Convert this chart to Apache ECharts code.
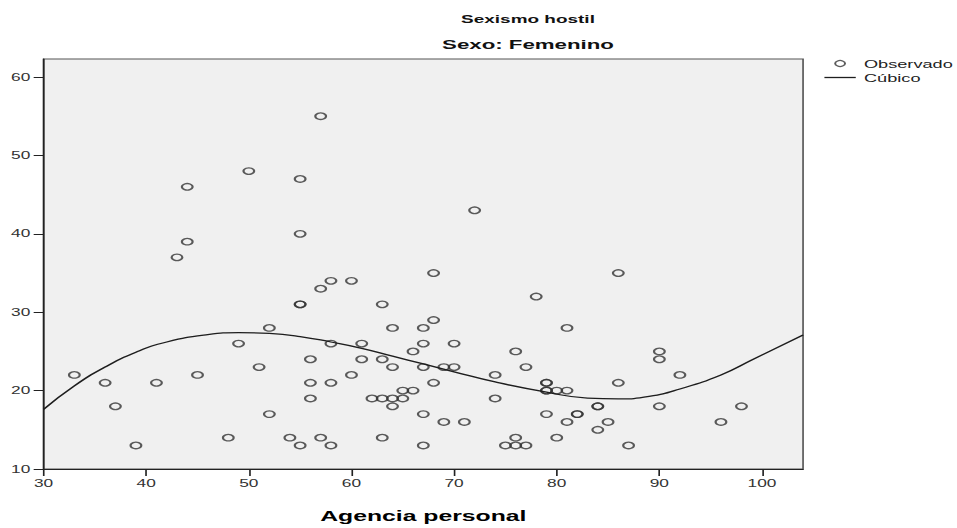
<!DOCTYPE html>
<html>
<head>
<meta charset="utf-8">
<script src="https://cdn.jsdelivr.net/npm/echarts@6/dist/echarts.min.js"></script>
<style>
  html, body { margin: 0; padding: 0; background: #fff; overflow: hidden; width: 957px; height: 528px; }
  /* The chart is laid out narrow and widened horizontally, like the exported SPSS graphic */
  #chart { width: 580px; height: 528px; transform: scaleX(1.65); transform-origin: 0 0; }
</style>
</head>
<body>
<div id="chart"></div>
<script>
// Observed cases: Agencia personal (x) and Sexismo hostil (y)
const agencia = [
  33, 36, 37, 39, 41, 43, 44, 44, 45, 48, 49, 50, 51, 52, 52, 54,
  55, 55, 55, 55, 55, 56, 56, 56, 57, 57, 57, 58, 58, 58, 58, 60, 60,
  61, 61, 62, 63, 63, 63, 63, 64, 64, 64, 64, 65, 65, 66, 66, 67, 67, 67, 67, 67, 68, 68, 68, 69, 69, 70, 70,
  71, 72, 74, 74, 75, 76, 76, 76, 77, 77, 78, 79, 79, 79, 79, 79, 80, 80, 81, 81, 81, 82, 82, 84, 84, 84, 85, 86, 86, 87, 90, 90, 90, 92, 96, 98
];
const sexismo = [
  22, 21, 18, 13, 21, 37, 46, 39, 22, 14, 26, 48, 23, 28, 17, 14,
  47, 40, 31, 31, 13, 24, 21, 19, 55, 33, 14, 34, 26, 21, 13, 34, 22,
  26, 24, 19, 31, 24, 19, 14, 28, 23, 19, 18, 20, 19, 25, 20, 28, 26, 23, 17, 13, 35, 29, 21, 23, 16, 26, 23,
  16, 43, 22, 19, 13, 25, 14, 13, 23, 13, 32, 21, 21, 20, 20, 17, 20, 14, 28, 20, 16, 17, 17, 18, 18, 15, 16, 35, 21, 13, 25, 24, 18, 22, 16, 18
];

// Cubic fit curve, sampled along the x range
const cubicX = [30, 33, 36, 39, 42, 46, 49, 52, 55, 58, 61, 64, 67, 70, 74, 79, 83, 86, 89, 92, 96, 99, 104];
const cubicY = [17.6, 20.6, 23.0, 24.9, 26.2, 27.15, 27.4, 27.3, 26.9, 26.2, 25.4, 24.4, 23.4, 22.4, 21.1, 19.8, 19.05, 18.95, 19.25, 20.2, 22.0, 23.9, 27.1];

// Tick labels
const xTicks = [30, 40, 50, 60, 70, 80, 90, 100];
const yTicks = [10, 20, 30, 40, 50, 60];

const observed = agencia.map((x, i) => [x, sexismo[i]]);
const curve = cubicX.map((x, i) => [x, cubicY[i]]);

const chart = echarts.init(document.getElementById('chart'), null, { renderer: 'svg' });

const font = 'Liberation Sans, Arial, sans-serif';
const axisInk = '#222';
const curveInk = '#1e1e1e';

chart.setOption({
  animation: false,
  backgroundColor: '#ffffff',
  textStyle: { fontFamily: font },
  title: [
    {
      text: 'Sexismo hostil',
      left: 320, top: 12.5, textAlign: 'center', padding: 0,
      textStyle: { fontFamily: font, fontSize: 11.5, fontWeight: 'bold', color: '#111' }
    },
    {
      text: 'Sexo: Femenino',
      left: 320, top: 37.5, textAlign: 'center', padding: 0,
      textStyle: { fontFamily: font, fontSize: 13.5, fontWeight: 'bold', color: '#111' }
    }
  ],
  legend: {
    orient: 'vertical',
    left: 499, top: 58,
    padding: 0,
    itemWidth: 19, itemHeight: 6, itemGap: 3,
    textStyle: { fontFamily: font, fontSize: 11, color: '#222' },
    data: [
      { name: 'Observado', icon: 'circle', itemStyle: { color: 'transparent', borderColor: '#333', borderWidth: 1.2 } },
      {
        name: 'Cúbico',
        itemStyle: { color: 'transparent', borderColor: 'transparent', borderWidth: 0 },
        lineStyle: { color: curveInk, width: 1.3 }
      }
    ]
  },
  grid: {
    left: 26.4, right: 93.3, top: 59, bottom: 50.3,
    show: true, backgroundColor: '#f0f0f0', borderColor: '#555', borderWidth: 1
  },
  xAxis: {
    type: 'value', min: 30, max: 104,
    name: 'Agencia personal', nameLocation: 'middle', nameGap: 39,
    nameTextStyle: { fontFamily: font, fontSize: 15, fontWeight: 'bold', color: '#000' },
    axisLine: { onZero: false, lineStyle: { color: axisInk, width: 1 } },
    axisTick: { show: true, length: 7, customValues: xTicks, lineStyle: { color: axisInk } },
    axisLabel: { customValues: xTicks, fontSize: 10.5, color: '#333', margin: 9 },
    splitLine: { show: false }
  },
  yAxis: {
    type: 'value', min: 10, max: 62.3,
    axisLine: { show: true, onZero: false, lineStyle: { color: axisInk, width: 1 } },
    axisTick: { show: true, length: 6, customValues: yTicks, lineStyle: { color: axisInk } },
    axisLabel: { customValues: yTicks, fontSize: 10.5, color: '#333', margin: 8 },
    splitLine: { show: false }
  },
  series: [
    {
      name: 'Observado', type: 'scatter', data: observed,
      symbol: 'circle', symbolSize: 6.5,
      itemStyle: { color: 'transparent', borderColor: '#333', borderWidth: 1.3 }
    },
    {
      name: 'Cúbico', type: 'line', data: curve,
      smooth: 0.5, symbol: 'none',
      itemStyle: { color: curveInk },
      lineStyle: { color: curveInk, width: 1.3 }
    }
  ]
});
</script>
</body>
</html>
